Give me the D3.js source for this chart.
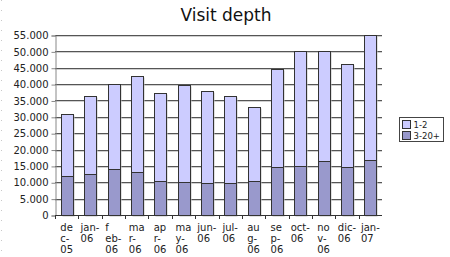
<!DOCTYPE html>
<html>
<head>
<meta charset="utf-8">
<script src="https://cdn.jsdelivr.net/npm/d3@7"></script>
<style>
  body { margin: 0; background: #fff; }
  svg { display: block; font-family: "DejaVu Sans", sans-serif; }
</style>
</head>
<body>
<svg id="chart" width="450" height="257"></svg>
<script>
// data
const months = ['dec-05', 'jan-06', 'feb-06', 'mar-06', 'apr-06', 'may-06', 'jun-06',
	'jul-06', 'aug-06', 'sep-06', 'oct-06', 'nov-06', 'dic-06', 'jan-07'];
const monthLines = [
	['de', 'c-', '05'], ['jan-', '06'], ['f', 'eb-', '06'], ['ma', 'r-', '06'],
	['ap', 'r-', '06'], ['ma', 'y-', '06'], ['jun-', '06'], ['jul-', '06'],
	['au', 'g-', '06'], ['se', 'p-', '06'], ['oct-', '06'], ['no', 'v-', '06'],
	['dic-', '06'], ['jan-', '07'],
];
const deep = [11900, 12500, 14000, 13000, 10400, 10000, 9800, 9700, 10400, 14700, 15000, 16500, 14700, 16800];
const totals = [30800, 36400, 40000, 42500, 37300, 39700, 37900, 36300, 32900, 44500, 50000, 50000, 46100, 54900];
const shallow = totals.map((t, i) => t - deep[i]);
const yTicks = d3.range(0, 55001, 5000);
const seriesNames = ['1-2', '3-20+'];
const colors = { '1-2': '#ccccff', '3-20+': '#9999cc' };

const svg = d3.select('#chart');
const m = { left: 55, right: 382, top: 35, bottom: 215 };

const x = d3.scaleBand().domain(months).range([m.left, m.right]).paddingInner(0.5).paddingOuter(0.25);
const xb = d3.scaleBand().domain(months).range([m.left, m.right]);
const y = d3.scaleLinear().domain([0, 55000]).range([m.bottom, m.top]);
const fmt = d3.format(',');

// faint dotted edge seen at left of reference
svg.append('line')
	.attr('x1', 1.5).attr('x2', 1.5).attr('y1', 0).attr('y2', 257)
	.attr('stroke', '#c8c8c8').attr('stroke-dasharray', '1,9');

svg.append('text')
	.attr('x', 226).attr('y', 21)
	.attr('text-anchor', 'middle')
	.attr('font-size', 17)
	.attr('fill', '#111')
	.text('Visit depth');

// grid
const grid = svg.append('g');
grid.selectAll('line.sh').data(yTicks.filter(d => d > 0)).enter().append('line')
	.attr('x1', m.left).attr('x2', m.right)
	.attr('y1', d => Math.round(y(d)) + 1.5).attr('y2', d => Math.round(y(d)) + 1.5)
	.attr('stroke', '#d0d0d0');
grid.selectAll('line.g').data(yTicks.filter(d => d > 0)).enter().append('line')
	.attr('x1', m.left).attr('x2', m.right)
	.attr('y1', d => Math.round(y(d)) + 0.5).attr('y2', d => Math.round(y(d)) + 0.5)
	.attr('stroke', '#555');

// y axis
const yAxis = svg.append('g')
	.attr('transform', `translate(${m.left + 0.5},0.5)`)
	.call(d3.axisLeft(y).tickValues(yTicks).tickSize(4).tickPadding(3)
		.tickFormat(d => fmt(d).replace(/,/g, '.')));
yAxis.select('.domain').attr('stroke', '#888');
yAxis.selectAll('.tick line').attr('stroke', '#888');
yAxis.selectAll('text').attr('font-size', 10).attr('fill', '#222').attr('font-family', '"DejaVu Sans", sans-serif');

// bars
const stack = d3.stack().keys(seriesNames)
	.value((d, k) => k === '1-2' ? d.shallow : d.deep)
	.order(d3.stackOrderReverse);
const rows = months.map((mo, i) => ({ mo, shallow: shallow[i], deep: deep[i] }));
const layers = stack(rows);

svg.append('g').selectAll('rect').data(rows).enter().append('rect')
	.attr('x', d => Math.round(x(d.mo)) + 1.5)
	.attr('y', d => Math.round(y(d.shallow + d.deep)) + 1.5)
	.attr('width', Math.round(x.bandwidth()))
	.attr('height', d => m.bottom - Math.round(y(d.shallow + d.deep)))
	.attr('fill', '#c4c4c4');

layers.forEach(layer => {
	svg.append('g').selectAll('rect').data(layer).enter().append('rect')
		.attr('x', d => Math.round(x(d.data.mo)) + 0.5)
		.attr('y', d => Math.round(y(d[1])) + 0.5)
		.attr('width', Math.round(x.bandwidth()))
		.attr('height', d => Math.round(y(d[0])) - Math.round(y(d[1])))
		.attr('fill', colors[layer.key])
		.attr('stroke', '#333')
		.attr('stroke-width', 1);
});

// x axis
svg.append('line')
	.attr('x1', m.left).attr('x2', m.right)
	.attr('y1', m.bottom + 0.5).attr('y2', m.bottom + 0.5)
	.attr('stroke', '#333');
svg.append('g').selectAll('line').data(months).enter().append('line')
	.attr('x1', d => Math.round(xb(d)) + 0.5).attr('x2', d => Math.round(xb(d)) + 0.5)
	.attr('y1', m.bottom).attr('y2', m.bottom + 4)
	.attr('stroke', '#333');

const labels = svg.append('g').selectAll('text').data(months).enter().append('text')
	.attr('font-size', 10)
	.attr('fill', '#222');
labels.each(function (d, i) {
	const t = d3.select(this);
	monthLines[i].forEach((ln, j) => {
		t.append('tspan').attr('y', 231 + j * 11).text(ln);
	});
	let w = 0;
	t.selectAll('tspan').each(function () { w = Math.max(w, this.getComputedTextLength()); });
	const cx = xb(d) + xb.bandwidth() / 2;
	t.selectAll('tspan').attr('x', cx - w / 2);
});

// legend
const lg = svg.append('g').attr('transform', 'translate(399.5,117.5)');
lg.append('rect').attr('width', 44).attr('height', 24).attr('fill', '#fff').attr('stroke', '#444');
seriesNames.forEach((s, i) => {
	lg.append('rect').attr('x', 3).attr('y', 3 + i * 11).attr('width', 8).attr('height', 8)
		.attr('fill', colors[s]).attr('stroke', '#333');
	lg.append('text').attr('x', 14).attr('y', 10.5 + i * 11)
		.attr('font-size', 8.5).attr('fill', '#222').text(s);
});
</script>
</body>
</html>
